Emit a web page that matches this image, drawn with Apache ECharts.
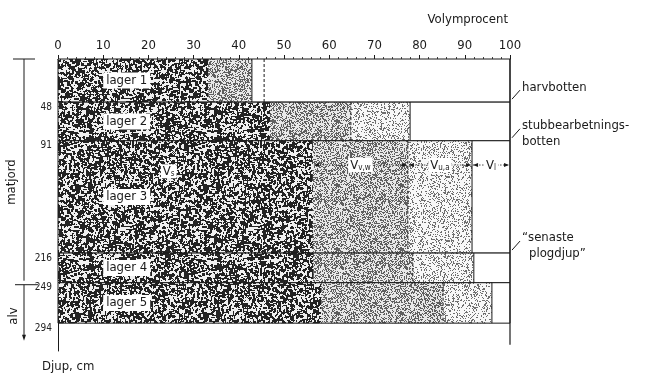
<!DOCTYPE html>
<html>
<head>
<meta charset="utf-8">
<script src="https://cdn.jsdelivr.net/npm/echarts@6.0.0/dist/echarts.min.js"></script>
<style>
  html, body { margin: 0; padding: 0; background: #fff; }
  #chart { width: 647px; height: 376px; }
</style>
</head>
<body>
<div id="chart"></div>
<script>
// soil layers, depth in cm, volume percent boundaries
const layerNames = ['lager 1', 'lager 2', 'lager 3', 'lager 4', 'lager 5'];
const depthTop = [0, 48, 91, 216, 249];
const depthBottom = [48, 91, 216, 249, 294];
const solidEnd = [33.2, 46.9, 56.4, 56.6, 58.2];   // V_s
const waterEnd = [42.9, 64.8, 77.4, 78.5, 85.2];   // V_v,w
const airEnd = [42.9, 77.9, 91.6, 92.0, 96.0];     // V_u,a
const dashAt = [45.6, 64.8, 77.4, 78.5, 85.2];
const depthTicks = [48, 91, 216, 249, 294];
const boundaryNotes = [
  { depth: 48, lines: ['harvbotten'] },
  { depth: 91, lines: ['stubbearbetnings-', 'botten'] },
  { depth: 216, lines: ['\u201csenaste', 'plogdjup\u201d'] },
];

const FONT = "'DejaVu Sans Condensed', 'Liberation Sans Narrow', sans-serif";
const INK = '#1a1a1a';

// seeded noise, only used for the paper-like textures
function rng(seed) {
  return function () {
    seed |= 0; seed = seed + 0x6D2B79F5 | 0;
    let t = Math.imul(seed ^ seed >>> 15, 1 | seed);
    t = t + Math.imul(t ^ t >>> 7, 61 | t) ^ t;
    return ((t ^ t >>> 14) >>> 0) / 4294967296;
  };
}

function stipple(size, density, seed, dark, base) {
  const c = document.createElement('canvas');
  c.width = c.height = size;
  const g = c.getContext('2d');
  const img = g.createImageData(size, size);
  const r = rng(seed);
  for (let i = 0; i < size * size; i++) {
    const v = r() < density ? dark : base;
    img.data[i * 4] = img.data[i * 4 + 1] = img.data[i * 4 + 2] = v;
    img.data[i * 4 + 3] = 255;
  }
  g.putImageData(img, 0, 0);
  return c;
}

function speckle(size, threshold, seed) {
  const c = document.createElement('canvas');
  c.width = c.height = size;
  const g = c.getContext('2d');
  const r = rng(seed);
  const f = new Float32Array(size * size);
  for (let i = 0; i < f.length; i++) f[i] = r();
  const at = (x, y) => f[((y + size) % size) * size + (x + size) % size];
  const img = g.createImageData(size, size);
  for (let y = 0; y < size; y++) {
    for (let x = 0; x < size; x++) {
      const s = (2 * at(x, y) + at(x - 1, y) + at(x + 1, y) + at(x, y - 1) + at(x, y + 1)) / 6;
      const v = s < threshold ? 35 : 240;
      const i = y * size + x;
      img.data[i * 4] = img.data[i * 4 + 1] = img.data[i * 4 + 2] = v;
      img.data[i * 4 + 3] = 255;
    }
  }
  g.putImageData(img, 0, 0);
  return c;
}

const tex = {
  solid: speckle(128, 0.52, 7),
  water: stipple(64, 0.42, 11, 95, 232),
  air: stipple(64, 0.24, 23, 110, 248),
};

const layerData = layerNames.map((n, i) =>
  [depthTop[i], depthBottom[i], solidEnd[i], waterEnd[i], airEnd[i], dashAt[i], i]);

function renderLayer(params, api) {
  const i = api.value(6);
  const top = api.value(0), bot = api.value(1);
  const xs = [0, api.value(2), api.value(3), api.value(4), 100];
  const fills = [tex.solid, tex.water, tex.air, null];
  const children = [];
  for (let k = 0; k < 4; k++) {
    const p0 = api.coord([xs[k], top]);
    const p1 = api.coord([xs[k + 1], bot]);
    if (p1[0] - p0[0] <= 0) continue;
    children.push({
      type: 'rect',
      shape: { x: p0[0], y: p0[1], width: p1[0] - p0[0], height: p1[1] - p0[1] },
      style: { fill: fills[k] ? { image: fills[k], repeat: 'repeat' } : '#fff' },
    });
  }
  const a = api.coord([0, top]), b = api.coord([100, bot]);
  children.push({
    type: 'rect',
    shape: { x: a[0], y: a[1], width: b[0] - a[0], height: b[1] - a[1] },
    style: { fill: null, stroke: INK, lineWidth: 1 },
  });
  const e0 = api.coord([api.value(4), top]), e1 = api.coord([api.value(4), bot]);
  children.push({
    type: 'line',
    shape: { x1: e0[0], y1: e0[1], x2: e1[0], y2: e1[1] },
    style: { stroke: INK, lineWidth: 1 },
  });
  const d0 = api.coord([api.value(5), top]), d1 = api.coord([api.value(5), bot]);
  children.push({
    type: 'line',
    shape: { x1: d0[0], y1: d0[1], x2: d1[0], y2: d1[1] },
    style: { stroke: INK, lineWidth: 1, lineDash: [3, 2] },
  });
  const mid = api.coord([10, (top + bot) / 2]);
  children.push({
    type: 'text',
    x: mid[0], y: mid[1],
    style: {
      text: layerNames[i], fill: INK, font: '13px ' + FONT,
      align: 'left', verticalAlign: 'middle',
      backgroundColor: '#fff', padding: [2, 3, 1, 3],
    },
  });
  return { type: 'group', children };
}

// volume components marked inside lager 3
const arrowDepth = 118;
const arrowData = [
  [solidEnd[2], waterEnd[2], 'v,w'],
  [waterEnd[2], airEnd[2], 'u,a'],
  [airEnd[2], 100, 'l'],
];

function arrowHead(x, y, dir) {
  return {
    type: 'polygon',
    shape: { points: [[x, y], [x - dir * 5, y - 2], [x - dir * 5, y + 2]] },
    style: { fill: INK },
  };
}

const subRich = {
  v: { fontSize: 13, fontFamily: FONT, fill: INK, verticalAlign: 'bottom' },
  s: { fontSize: 8, fontFamily: FONT, fill: INK, verticalAlign: 'bottom', padding: [4, 0, 0, 0] },
};

function renderArrow(params, api) {
  const p0 = api.coord([api.value(0), arrowDepth]);
  const p1 = api.coord([api.value(1), arrowDepth]);
  const sub = arrowData[params.dataIndex][2];
  const x0 = p0[0] + 1, x1 = p1[0] - 1, y = p0[1];
  return {
    type: 'group',
    children: [
      { type: 'line', shape: { x1: x0, y1: y, x2: x1, y2: y },
        style: { stroke: INK, lineWidth: 0.8, lineDash: [1.5, 1.5] } },
      arrowHead(x0, y, -1),
      arrowHead(x1, y, 1),
      { type: 'text', x: (x0 + x1) / 2, y: y,
        style: {
          text: '{v|V}{s|' + sub + '}', align: 'center', verticalAlign: 'middle',
          backgroundColor: '#fff', padding: [1, 2, 0, 2], rich: subRich,
        } },
    ],
  };
}

function renderSolidTag(params, api) {
  const p = api.coord([api.value(0), api.value(1)]);
  return {
    type: 'text', x: p[0], y: p[1],
    style: {
      text: '{v|V}{s|s}', align: 'center', verticalAlign: 'middle',
      backgroundColor: '#fff', padding: [1, 2, 0, 2], rich: subRich,
    },
  };
}

function renderEdge(params, api) {
  const a = api.coord([100, 0]), b = api.coord([100, 318]);
  return { type: 'line', shape: { x1: a[0], y1: a[1], x2: b[0], y2: b[1] },
    style: { stroke: INK, lineWidth: 1.2 } };
}

const chart = echarts.init(document.getElementById('chart'), null, { renderer: 'canvas' });

chart.setOption({
  animation: false,
  backgroundColor: '#fff',
  grid: { left: 58, right: 137, top: 59, bottom: 25, outerBoundsMode: 'none' },
  xAxis: {
    type: 'value', position: 'top', min: 0, max: 100, interval: 10,
    axisLine: { show: true, onZero: false, lineStyle: { color: INK, width: 1 } },
    axisTick: { show: true, length: 4, lineStyle: { color: INK } },
    minorTick: { show: true, splitNumber: 5, length: 2, lineStyle: { color: '#444' } },
    splitLine: { show: false },
    axisLabel: { color: INK, fontSize: 13, fontFamily: FONT, margin: 7 },
  },
  yAxis: {
    type: 'value', inverse: true, min: 0, max: 325,
    axisLine: { show: true, onZero: false, lineStyle: { color: INK, width: 1 } },
    axisTick: { show: false },
    splitLine: { show: false },
    axisLabel: { customValues: depthTicks, color: '#222', fontSize: 10, fontFamily: FONT, margin: 6,
      verticalAlign: 'top' },
  },
  series: [
    { type: 'custom', renderItem: renderLayer, data: layerData, encode: { x: [2, 3, 4], y: [0, 1] }, silent: true },
    { type: 'custom', renderItem: renderSolidTag, data: [[24.5, 125]], encode: { x: 0, y: 1 }, silent: true },
    { type: 'custom', renderItem: renderArrow, data: arrowData.map(d => [d[0], d[1]]), encode: { x: [0, 1] }, silent: true },
    { type: 'custom', renderItem: renderEdge, data: [[100, 0]], encode: { x: 0, y: 1 }, silent: true, z: 5 },
  ],
});

// annotations around the plot, placed from the axis scales
const px = (x, d) => chart.convertToPixel({ gridIndex: 0 }, [x, d]);
const yTop = px(0, 0)[1];
const y249 = px(0, 249)[1];
const yArrow = px(0, 308)[1];
const xRight = px(100, 0)[0];
const lineStyle = { stroke: INK, lineWidth: 1 };
const textStyle = (t, extra) => Object.assign({ text: t, fill: INK, font: '13px ' + FONT }, extra || {});

const graphics = [
  { type: 'line', shape: { x1: 13, y1: yTop, x2: 35, y2: yTop }, style: lineStyle },
  { type: 'line', shape: { x1: 24, y1: yTop, x2: 24, y2: y249 - 2 }, style: lineStyle },
  { type: 'line', shape: { x1: 15, y1: y249 + 2, x2: 38, y2: y249 + 2 }, style: lineStyle },
  { type: 'line', shape: { x1: 24, y1: y249 + 2, x2: 24, y2: yArrow }, style: lineStyle },
  { type: 'polygon', shape: { points: [[24, yArrow + 5], [22, yArrow - 1], [26, yArrow - 1]] }, style: { fill: INK } },
  { type: 'text', x: 12, y: px(0, 137)[1], rotation: Math.PI / 2,
    style: textStyle('matjord', { align: 'center', verticalAlign: 'middle' }) },
  { type: 'text', x: 14, y: px(0, 286)[1], rotation: Math.PI / 2,
    style: textStyle('alv', { align: 'center', verticalAlign: 'middle' }) },
  { type: 'text', x: 42, y: 367, style: textStyle('Djup, cm', { verticalAlign: 'middle' }) },
  { type: 'text', x: xRight - 2, y: 20, style: textStyle('Volymprocent', { align: 'right', verticalAlign: 'middle' }) },
];

boundaryNotes.forEach(n => {
  const y = px(100, n.depth)[1];
  graphics.push({ type: 'line', shape: { x1: xRight + 2, y1: y - 3, x2: xRight + 10, y2: y - 12 }, style: lineStyle });
  n.lines.forEach((t, k) => {
    const indent = (k === 1 && n.depth === 216) ? 7 : 0;
    graphics.push({ type: 'text', x: xRight + 12 + indent, y: y - 15 + k * 16,
      style: textStyle(t, { verticalAlign: 'middle' }) });
  });
});

chart.setOption({ graphic: graphics });
</script>
</body>
</html>
